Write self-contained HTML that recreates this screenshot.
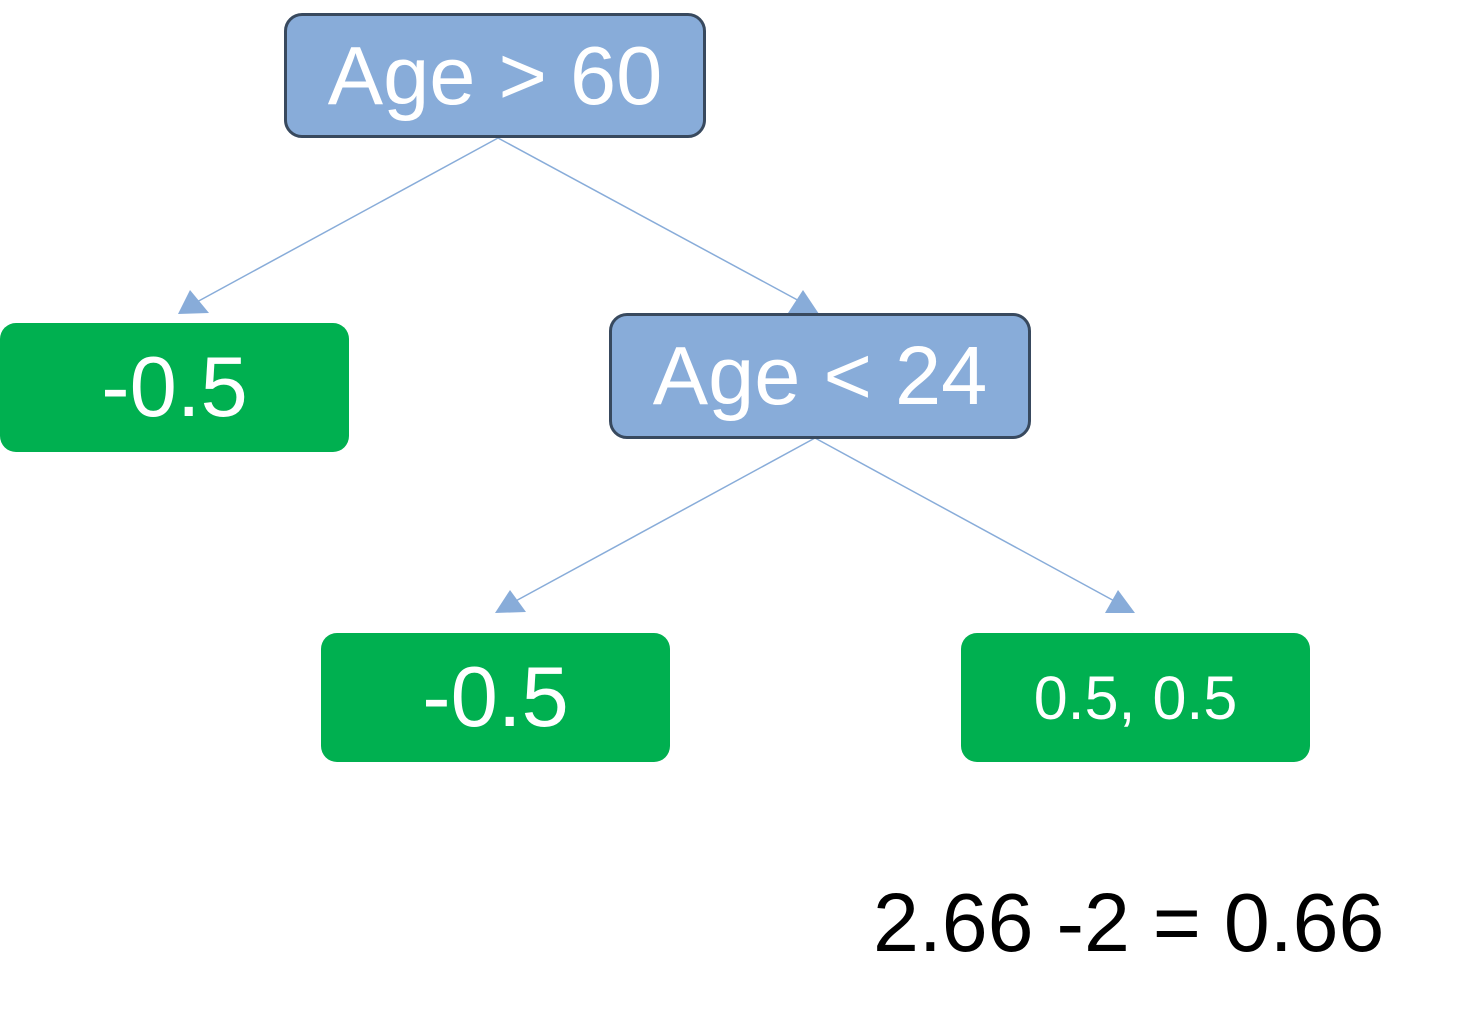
<!DOCTYPE html>
<html><head><style>
body{margin:0;width:1466px;height:1019px;background:#fff;position:relative;overflow:hidden;font-family:"Liberation Sans",Arial,sans-serif}
.b{position:absolute;box-sizing:border-box;display:flex;align-items:center;justify-content:center;color:#fff}
.blue{background:#88acd9;border:3.5px solid #38495e;border-radius:18px;font-size:83px}
.green{background:#00b050;border-radius:16px;font-size:85px}
</style></head><body>
<svg width="1466" height="1019" style="position:absolute;left:0;top:0">
<g stroke="#88acd9" stroke-width="1.5" fill="none">
<line x1="498" y1="138" x2="195" y2="303"/>
<line x1="498" y1="138" x2="803" y2="303"/>
<line x1="815" y1="438" x2="512" y2="603"/>
<line x1="815" y1="438" x2="1118" y2="603"/>
</g>
<g fill="#88acd9">
<polygon points="190,290 178,314 209,313"/>
<polygon points="803,290 788,313 819,314"/>
<polygon points="510,590 495,613 526,612"/>
<polygon points="1118,590 1105,613 1135,613"/>
</g>
</svg>
<div class="b blue" style="left:284px;top:13px;width:422px;height:125px">Age &gt; 60</div>
<div class="b blue" style="left:609px;top:313px;width:422px;height:126px">Age &lt; 24</div>
<div class="b green" style="left:0;top:323px;width:349px;height:129px">-0.5</div>
<div class="b green" style="left:321px;top:633px;width:349px;height:129px">-0.5</div>
<div class="b green" style="left:961px;top:633px;width:349px;height:129px;font-size:61px">0.5, 0.5</div>
<div style="position:absolute;left:873px;top:873px;font-size:82.5px;color:#000;white-space:nowrap;line-height:100px">2.66 -2 = 0.66</div>
</body></html>
